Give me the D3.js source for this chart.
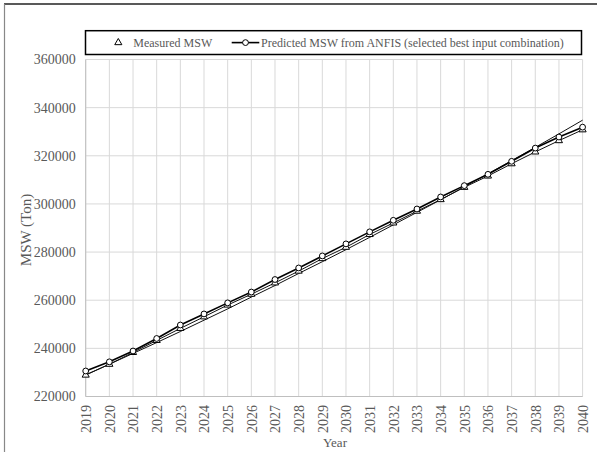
<!DOCTYPE html>
<html><head><meta charset="utf-8">
<script src="https://cdn.jsdelivr.net/npm/d3@7"></script>
<style>body{margin:0;background:#fff}svg{display:block}</style>
</head><body>
<svg id="c" width="597" height="452"></svg>
<script>
const years = [2019,2020,2021,2022,2023,2024,2025,2026,2027,2028,2029,2030,2031,2032,2033,2034,2035,2036,2037,2038,2039,2040];
const measured = [228900,233400,238300,243300,248300,253100,258000,262500,267200,272100,277300,282000,287300,292100,297000,301800,306900,311600,316700,321600,326300,330800];
const predicted = [230600,234400,238900,244100,249700,254300,258900,263400,268600,273400,278400,283400,288400,293200,297900,302900,307600,312300,317700,323200,327800,331900];
const trend = [229000,233400,237900,242400,247000,251700,256400,261300,266100,271100,276000,281000,286100,291300,296500,301700,307100,312500,318000,323500,329100,334800];
const yTicks = [220000,240000,260000,280000,300000,320000,340000,360000];
const legendLabels = ["Measured MSW","Predicted MSW from ANFIS (selected best input combination)"];

const svg = d3.select("#c");
const FONT = "'Liberation Serif','Times New Roman',serif";
const L = 85.7, R = 582.6, T = 59.5, B = 396.5;
const x = d3.scaleLinear().domain([2019,2040]).range([L,R]);
const y = d3.scaleLinear().domain([220000,360000]).range([B,T]);

// outer frame
svg.append("line").attr("x1",4).attr("x2",597).attr("y1",4).attr("y2",4).attr("stroke","#222").attr("stroke-width",1.5);
svg.append("line").attr("x1",4.5).attr("x2",4.5).attr("y1",4).attr("y2",452).attr("stroke","#888").attr("stroke-width",1.2);

// grid
const g = svg.append("g");
g.selectAll(".hg").data(yTicks).join("line")
  .attr("x1",L).attr("x2",R).attr("y1",d=>y(d)).attr("y2",d=>y(d))
  .attr("stroke","#d9d9d9").attr("stroke-width",1);
g.selectAll(".vg").data(years).join("line")
  .attr("x1",d=>x(d)).attr("x2",d=>x(d)).attr("y1",T).attr("y2",B)
  .attr("stroke","#d9d9d9").attr("stroke-width",1);
svg.append("line").attr("x1",L).attr("x2",L).attr("y1",T).attr("y2",B).attr("stroke","#bfbfbf");
svg.append("line").attr("x1",L).attr("x2",R).attr("y1",B).attr("y2",B).attr("stroke","#bfbfbf");

// y axis labels
const yAxis = d3.axisLeft(y).tickValues(yTicks).tickSize(0).tickPadding(10).tickFormat(d3.format("d"));
const ya = svg.append("g").attr("transform",`translate(${L},0)`).call(yAxis);
ya.select(".domain").remove();
ya.selectAll("text").attr("font-family",FONT).attr("font-size",14).attr("fill","#595959");

// x axis labels
const xAxis = d3.axisBottom(x).tickValues(years).tickSize(0).tickFormat(d3.format("d"));
const xa = svg.append("g").attr("transform",`translate(0,${B})`).call(xAxis);
xa.select(".domain").remove();
xa.selectAll("text").attr("font-family",FONT).attr("font-size",14).attr("fill","#595959")
  .attr("transform","rotate(-90)").attr("text-anchor","end").attr("x",-8.5).attr("y",0).attr("dy","0.35em");

// titles
svg.append("text").attr("x",335).attr("y",447).attr("text-anchor","middle")
  .attr("font-family",FONT).attr("font-size",13).attr("fill","#595959").text("Year");
svg.append("text").attr("transform","translate(31,230) rotate(-90)").attr("text-anchor","middle")
  .attr("font-family",FONT).attr("font-size",15).attr("fill","#595959").text("MSW (Ton)");

// lines
const line = d3.line().x((d,i)=>x(years[i])).y(d=>y(d));
svg.append("path").datum(trend).attr("d",line).attr("fill","none").attr("stroke","#111").attr("stroke-width",1);
svg.append("path").datum(measured).attr("d",line).attr("fill","none").attr("stroke","#111").attr("stroke-width",1);
svg.append("path").datum(predicted).attr("d",line).attr("fill","none").attr("stroke","#000").attr("stroke-width",1.6);

// markers
const tri = d3.symbol().type(d3.symbolTriangle).size(22);
svg.selectAll(".tri").data(measured).join("path")
  .attr("d",tri).attr("transform",(d,i)=>`translate(${x(years[i])},${y(d)})`)
  .attr("fill","#fff").attr("stroke","#000").attr("stroke-width",1);
svg.selectAll(".cir").data(predicted).join("circle")
  .attr("cx",(d,i)=>x(years[i])).attr("cy",d=>y(d)).attr("r",2.9)
  .attr("fill","#fff").attr("stroke","#000").attr("stroke-width",1);

// legend
svg.append("rect").attr("x",85.5).attr("y",30.7).attr("width",496).attr("height",23.8)
  .attr("fill","#fff").attr("stroke","#000").attr("stroke-width",1.5);
svg.append("path").attr("d",tri).attr("transform","translate(118.3,42.6)")
  .attr("fill","#fff").attr("stroke","#000").attr("stroke-width",1);
svg.append("text").attr("x",133.3).attr("y",46.8).attr("font-family",FONT).attr("font-size",12)
  .attr("fill","#595959").text(legendLabels[0]);
svg.append("line").attr("x1",231.7).attr("x2",259.3).attr("y1",42.6).attr("y2",42.6).attr("stroke","#000").attr("stroke-width",1.6);
svg.append("circle").attr("cx",245.5).attr("cy",42.6).attr("r",2.9).attr("fill","#fff").attr("stroke","#000");
svg.append("text").attr("x",261).attr("y",46.8).attr("font-family",FONT).attr("font-size",12)
  .attr("fill","#595959").text(legendLabels[1]);
</script>
</body></html>
